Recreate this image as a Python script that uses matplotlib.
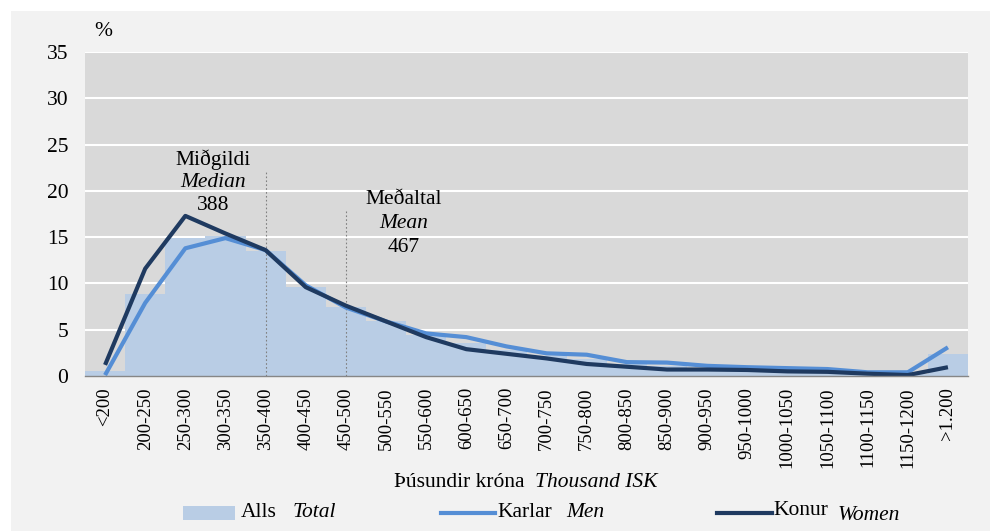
import numpy as np
import matplotlib
matplotlib.use("Agg")
import matplotlib.pyplot as plt
from matplotlib.patches import Rectangle
from matplotlib.lines import Line2D

plt.rcParams['font.family'] = ['Liberation Serif', 'DejaVu Serif']

categories = ['<200', '200-250', '250-300', '300-350', '350-400', '400-450',
              '450-500', '500-550', '550-600', '600-650', '650-700', '700-750',
              '750-800', '800-850', '850-900', '900-950', '950-1000',
              '1000-1050', '1050-1100', '1100-1150', '1150-1200', '>1.200']

# Alls / Total (bars)
total = [0.5, 8.9, 14.9, 15.1, 13.5, 9.65, 7.5, 5.9, 4.4, 3.6, 2.8, 2.2,
         1.8, 1.3, 1.1, 0.9, 0.8, 0.7, 0.6, 0.35, 0.25, 2.35]
# Karlar / Men
men = [0.1, 7.9, 13.8, 14.9, 13.6, 9.8, 7.4, 5.9, 4.6, 4.2, 3.2, 2.45,
       2.3, 1.5, 1.45, 1.1, 0.95, 0.85, 0.75, 0.4, 0.4, 3.1]
# Konur / Women
women = [1.2, 11.6, 17.3, 15.4, 13.6, 9.6, 7.6, 5.9, 4.2, 2.9, 2.4, 1.9,
         1.3, 1.0, 0.7, 0.7, 0.65, 0.5, 0.45, 0.25, 0.1, 0.95]

median_pos, median_top = 4, 22
mean_pos, mean_top = 6, 18

c_bar = '#b9cde5'
c_men = '#558ed5'
c_women = '#1f3a60'
fs = 15.5

fig = plt.figure(figsize=(10, 5.31), dpi=100)
fig.patch.set_facecolor('white')
fig.patches.append(Rectangle((0.011, 0), 0.979, 0.979, transform=fig.transFigure,
                             facecolor='#f2f2f2', edgecolor='none', zorder=-10))

ax = fig.add_axes([0.085, 0.2919, 0.883, 0.610])
ax.set_facecolor('#d9d9d9')
x = np.arange(len(categories))

ax.bar(x, total, width=1.0, color=c_bar, zorder=2)
ax.plot(x, men, color=c_men, lw=3, zorder=4, solid_capstyle='butt')
ax.plot(x, women, color=c_women, lw=3, zorder=5, solid_capstyle='butt')

ax.plot([median_pos, median_pos], [0, median_top], ls=(0, (1.5, 2)), color='#808080', lw=0.8, zorder=3)
ax.plot([mean_pos, mean_pos], [0, mean_top], ls=(0, (1.5, 2)), color='#808080', lw=0.8, zorder=3)

ax.text(2.7, 23.4, 'Miðgildi', ha='center', va='center', fontsize=fs)
ax.text(2.7, 20.9, 'Median', ha='center', va='center', fontsize=fs, style='italic')
ax.text(2.7, 18.4, '388', ha='center', va='center', fontsize=fs)
ax.text(7.45, 19.1, 'Meðaltal', ha='center', va='center', fontsize=fs)
ax.text(7.45, 16.5, 'Mean', ha='center', va='center', fontsize=fs, style='italic')
ax.text(7.45, 13.9, '467', ha='center', va='center', fontsize=fs)

ax.set_xlim(-0.5, len(categories) - 0.5)
ax.set_ylim(0, 35)
ax.set_yticks(np.arange(0, 36, 5))
ax.grid(axis='y', color='white', lw=1.5, zorder=1)
ax.set_axisbelow(True)
ax.set_xticks(x)
ax.set_xticklabels(categories, rotation=90, fontsize=13.5)
ax.tick_params(axis='x', length=0, pad=8)
ax.tick_params(axis='y', length=0, pad=12, labelsize=fs)
for s in ['top', 'right', 'left']:
    ax.spines[s].set_visible(False)
ax.spines['bottom'].set_color('#868686')
ax.spines['bottom'].set_linewidth(1)
ax.spines['bottom'].set_zorder(6)

fig.text(0.103, 0.94, '%', ha='center', va='center', fontsize=fs)

# x-axis title
fig.text(0.524, 0.092, 'Þúsundir króna', ha='right', va='center', fontsize=fs)
fig.text(0.535, 0.092, 'Thousand ISK', ha='left', va='center', fontsize=fs, style='italic')

# legend
ly = 0.034
fig.patches.append(Rectangle((0.183, ly - 0.014), 0.052, 0.028, transform=fig.transFigure,
                             facecolor=c_bar, edgecolor='none'))
fig.text(0.241, ly, 'Alls', ha='left', va='center', fontsize=fs)
fig.text(0.293, ly, 'Total', ha='left', va='center', fontsize=fs, style='italic')
fig.lines.append(Line2D([0.441, 0.495], [ly, ly], transform=fig.transFigure, color=c_men, lw=3))
fig.text(0.497, ly, 'Karlar', ha='left', va='center', fontsize=fs)
fig.text(0.566, ly, 'Men', ha='left', va='center', fontsize=fs, style='italic')
fig.lines.append(Line2D([0.717, 0.772], [ly, ly], transform=fig.transFigure, color=c_women, lw=3))
fig.text(0.773, ly + 0.004, 'Konur', ha='left', va='center', fontsize=fs)
fig.text(0.838, ly - 0.004, 'Women', ha='left', va='center', fontsize=fs, style='italic')

fig.savefig('out.png', dpi=100, facecolor=fig.get_facecolor())
